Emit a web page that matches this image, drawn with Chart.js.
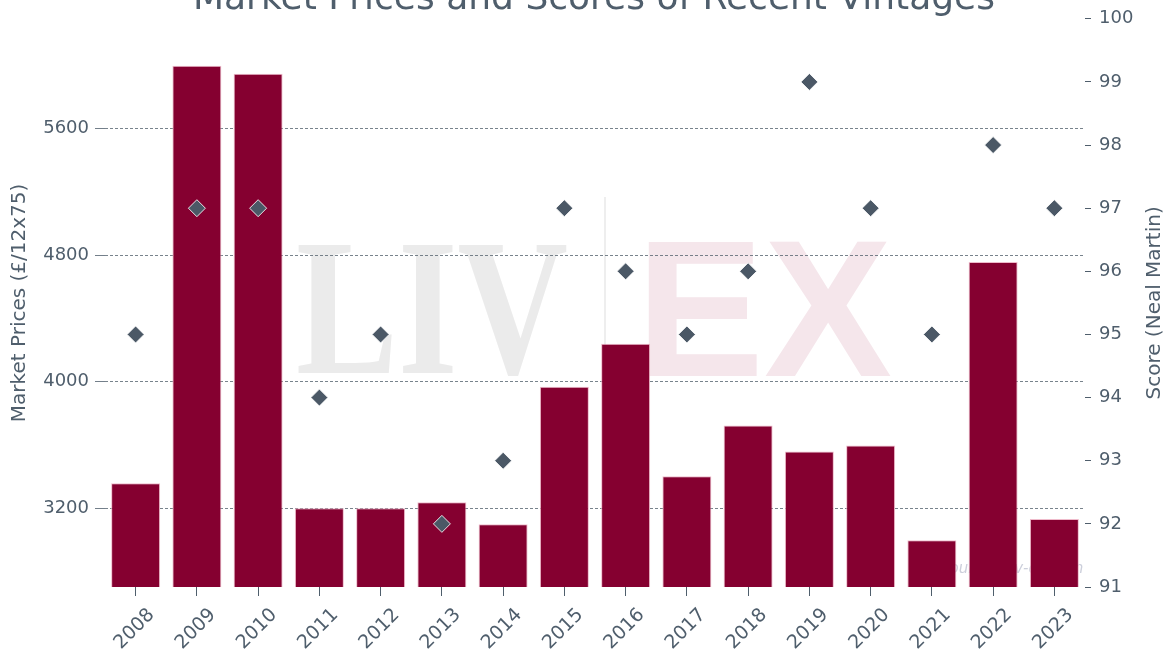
<!DOCTYPE html>
<html>
<head>
<meta charset="utf-8">
<script src="https://cdn.jsdelivr.net/npm/chart.js@4/dist/chart.umd.min.js"></script>
<style>
  html, body { margin: 0; padding: 0; background: #fff; }
  #wrap { width: 1169px; height: 653px; }
</style>
</head>
<body>
<div id="wrap"><canvas id="chart" width="1169" height="653"></canvas></div>
<script>
const vintages = ['2008', '2009', '2010', '2011', '2012', '2013', '2014', '2015',
                  '2016', '2017', '2018', '2019', '2020', '2021', '2022', '2023'];
const marketPrices = [3357, 5997, 5946, 3200, 3200, 3238, 3099, 3968,
                      4239, 3402, 3723, 3559, 3597, 2998, 4756, 3131];
const scores = [95, 97, 97, 94, 95, 92, 93, 97, 96, 95, 96, 99, 97, 95, 98, 97];
const priceTicks = [3200, 4000, 4800, 5600];

const textColor = '#4f5e6c';
const fontFamily = "'DejaVu Sans', sans-serif";

// background logo, title and right axis title, drawn by hand
const decorations = {
    id: 'decorations',
    beforeDraw(chart) {
        const ctx = chart.ctx;
        ctx.save();
        ctx.fillStyle = '#fff';
        ctx.fillRect(0, 0, chart.width, chart.height);

        // "LIV" serif part
        ctx.fillStyle = '#ebebeb';
        ctx.font = "bold 200px 'Liberation Serif', serif";
        ctx.textBaseline = 'alphabetic';
        let w = ctx.measureText('LIV').width;
        ctx.save();
        ctx.translate(296, 373);
        ctx.scale(272 / w, 130 / 133);
        ctx.fillText('LIV', 0, 0);
        ctx.restore();

        // divider
        ctx.fillStyle = '#eeeeee';
        ctx.fillRect(604, 197, 2, 178);

        // "EX" bold part
        ctx.fillStyle = '#f5e6eb';
        ctx.font = "bold 200px 'Liberation Sans', sans-serif";
        w = ctx.measureText('EX').width;
        ctx.save();
        ctx.translate(636, 376);
        ctx.scale(256 / w, 139 / 143);
        ctx.fillText('EX', 0, 0);
        ctx.restore();

        // faint source note
        ctx.fillStyle = 'rgba(170,175,195,0.6)';
        ctx.font = "italic 15px " + fontFamily;
        ctx.fillText('Source: Liv-ex.com', 940, 573);
        ctx.restore();
    },
    afterDraw(chart) {
        const ctx = chart.ctx;
        const area = chart.chartArea;
        ctx.save();
        ctx.fillStyle = textColor;
        ctx.font = "36px " + fontFamily;
        ctx.textAlign = 'center';
        ctx.textBaseline = 'alphabetic';
        ctx.fillText('Market Prices and Scores of Recent Vintages', 594, 9);

        ctx.font = "20px " + fontFamily;
        ctx.textBaseline = 'middle';
        ctx.translate(1155, (area.top + area.bottom) / 2);
        ctx.rotate(-Math.PI / 2);
        ctx.fillText('Score (Neal Martin)', 0, 0);
        ctx.restore();
    }
};

new Chart(document.getElementById('chart').getContext('2d'), {
    type: 'bar',
    data: {
        labels: vintages,
        datasets: [
            {
                type: 'line',
                label: 'Score (Neal Martin)',
                data: scores,
                yAxisID: 'y1',
                showLine: false,
                pointStyle: 'rectRot',
                pointRadius: 8.5,
                pointHoverRadius: 8.5,
                pointBackgroundColor: '#4b5866',
                pointBorderColor: 'rgba(255,255,255,0.85)',
                pointBorderWidth: 1,
                order: 0
            },
            {
                label: 'Market Prices (£/12x75)',
                data: marketPrices,
                yAxisID: 'y',
                backgroundColor: '#850030',
                borderColor: 'rgba(235,170,190,0.8)',
                borderWidth: 1,
                barPercentage: 0.8,
                categoryPercentage: 1.0,
                order: 1
            }
        ]
    },
    options: {
        responsive: false,
        animation: false,
        layout: { padding: { top: 17, left: 0, right: 0, bottom: 0 } },
        plugins: {
            legend: { display: false },
            tooltip: { enabled: false }
        },
        scales: {
            x: {
                grid: { offset: false, drawOnChartArea: false, drawTicks: true, tickLength: 9, color: textColor, lineWidth: 1 },
                border: { display: false },
                ticks: {
                    color: textColor,
                    font: { family: fontFamily, size: 19 },
                    minRotation: 45,
                    maxRotation: 45,
                    labelOffset: 16,
                    padding: 8
                },
                afterFit(scale) { scale.height = 66; }
            },
            y: {
                position: 'left',
                min: 2702,
                max: 6293,
                afterBuildTicks(scale) { scale.ticks = priceTicks.map(v => ({ value: v })); },
                grid: { color: '#56636f', lineWidth: 0.8, tickLength: 10, tickColor: textColor },
                border: { display: false, dash: [3, 2] },
                ticks: {
                    color: textColor,
                    font: { family: fontFamily, size: 18 },
                    padding: 6,
                    callback: v => String(v)
                },
                title: {
                    display: true,
                    text: 'Market Prices (£/12x75)',
                    color: textColor,
                    font: { family: fontFamily, size: 20 },
                    padding: { top: 8, bottom: 0 }
                },
                afterFit(scale) { scale.width = 105; }
            },
            y1: {
                position: 'right',
                min: 91,
                max: 100,
                grid: { drawOnChartArea: false, tickLength: 6, color: textColor },
                border: { display: false },
                ticks: {
                    stepSize: 1,
                    color: textColor,
                    font: { family: fontFamily, size: 18 },
                    padding: 8
                },
                afterFit(scale) { scale.width = 84; }
            }
        }
    },
    plugins: [decorations]
});
</script>
</body>
</html>
